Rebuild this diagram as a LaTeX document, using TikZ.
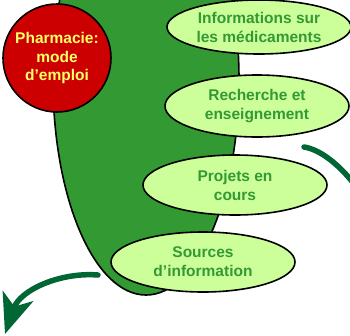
\documentclass[tikz,border=0pt]{standalone}
\usepackage{fontspec}
\setmainfont{Liberation Sans}
\usepackage{tikz}
\usetikzlibrary{shapes.geometric}
\usetikzlibrary{arrows.meta}
\definecolor{pharmared}{HTML}{CC0000}
\definecolor{pharmayellow}{HTML}{FFFF66}
\definecolor{bodygreen}{HTML}{339933}
\definecolor{leafgreen}{HTML}{CCFF99}
\definecolor{arrowgreen}{HTML}{006633}
\tikzset{
    titlecircle/.style={shape=circle, draw=black, line width=1.6pt, fill=pharmared,
        text=pharmayellow, minimum size=108pt, inner sep=0pt, align=center,
        font=\fontsize{15.5}{18.5}\selectfont\bfseries},
    topicleaf/.style={shape=ellipse, draw=black, line width=1.6pt, fill=leafgreen,
        text=bodygreen, minimum width=184pt, minimum height=58pt, inner sep=0pt, align=center,
        font=\fontsize{15.5}{19}\selectfont\bfseries},
    bentarrow/.style={draw=arrowgreen, line width=5.5pt, line cap=round,
        -{Stealth[length=40pt, width=32pt, inset=11pt]}}}

\begin{document}
\begin{tikzpicture}[x=1pt, y=-1pt]
                    \clip (0,0) rectangle (350,335);
                    \useasboundingbox (0,0) rectangle (350,335);

                    % green body behind the topics
                    \draw[fill=bodygreen, draw=black, line width=1.6pt] (146,80) ellipse [x radius=93pt, y radius=215pt];

                    \node[titlecircle] (T) at (57,58) {Pharmacie:\\mode\\d'emploi};
                    \node[topicleaf, minimum height=54pt] (I) at (259,27) {Informations sur\\les médicaments};
                    \node[topicleaf, minimum height=62pt] (R) at (257,106) {Recherche et\\enseignement};
                    \node[topicleaf, minimum height=60pt] (P) at (235,185) {Projets en\\cours};
                    \node[topicleaf, minimum height=60pt] (S) at (203,262) {Sources\\d'information};

                    \coordinate (La) at (98,275);
                    \coordinate (Lb) at (5,334);
                    \coordinate (Ra) at (304,147);
                    \coordinate (Rb) at (398,285);

                    \draw[bentarrow] (La) .. controls (60,272) and (20,290) .. (Lb);
                    \draw[bentarrow] (Ra) .. controls (336,152) and (378,205) .. (Rb);

\end{tikzpicture}
\end{document}
